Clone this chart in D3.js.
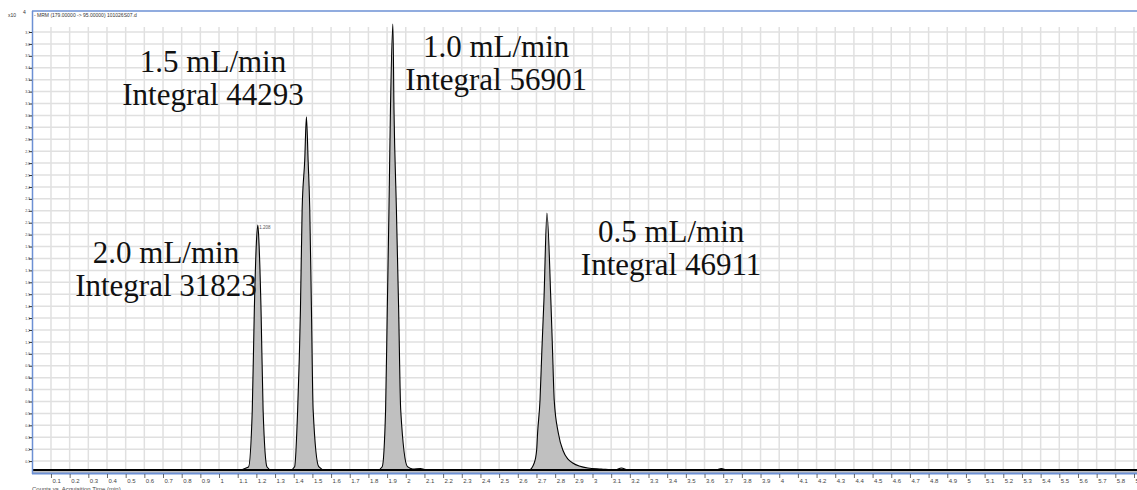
<!DOCTYPE html>
<html>
<head>
<meta charset="utf-8">
<script src="https://cdn.jsdelivr.net/npm/d3@7"></script>
<style>
  body { margin: 0; background: #fff; }
  svg { display: block; }
</style>
</head>
<body>
<svg id="chart" width="1137" height="490"></svg>
<script>
// chromatogram trace (time in min, counts)
const traceTime = [0, 1.10, 1.158, 1.178, 1.189, 1.200, 1.208, 1.214, 1.225, 1.236, 1.257, 1.28,
  1.382, 1.405, 1.421, 1.436, 1.445, 1.459, 1.468, 1.477, 1.486, 1.495, 1.504, 1.534, 1.565,
  1.85, 1.874, 1.892, 1.901, 1.910, 1.918, 1.931, 1.937, 1.950, 1.962, 1.973, 2.009, 2.037, 2.08, 2.10, 2.15,
  2.66, 2.688, 2.701, 2.706, 2.719, 2.729, 2.740, 2.756, 2.777, 2.786, 2.795, 2.817, 2.841, 2.894, 2.975, 3.047,
  3.12, 3.155, 3.19, 3.66, 3.69, 3.72, 5.95]
const traceCounts = [250, 250, 503, 5285, 13676, 19300, 20800, 19300, 13676, 5285, 503, 250,
  250, 529, 5285, 13676, 22066, 26260, 29890, 26260, 22066, 13676, 5285, 529, 250,
  250, 529, 5285, 13676, 22066, 30456, 37670, 30456, 22066, 13676, 5285, 529, 336, 380, 300, 250,
  250, 839, 1930, 3356, 6125, 10320, 14515, 21814, 14515, 10320, 6125, 3356, 1930, 839, 420, 336,
  260, 420, 260, 250, 380, 250, 250]

const peakLabels = [
  ['2.0 mL/min', 'Integral 31823'],
  ['1.5 mL/min', 'Integral 44293'],
  ['1.0 mL/min', 'Integral 56901'],
  ['0.5 mL/min', 'Integral 46911']
]
const peakLabelAt = [[0.716, 263], [0.968, 72], [2.484, 57], [3.421, 242]] // centre time, baseline px
const apexTime = 1.208
const xTicks = d3.range(1, 60).map(i => i / 10)
const yTicks = d3.range(1, 38).map(i => i * 1000)

const W = 1137
const H = 490
const svg = d3.select('#chart')

const x = d3.scaleLinear().domain([0, 5.9]).range([32.3, 1134])
const y = d3.scaleLinear().domain([0, 37000]).range([473, 32])

const blue = '#6c90d4'
const gridColor = '#e0e0e0'

// grid
svg.append('g')
  .selectAll('line')
  .data(xTicks)
  .join('line')
  .attr('x1', d => x(d)).attr('x2', d => x(d))
  .attr('y1', 27).attr('y2', 473)
  .attr('stroke', gridColor)
  .attr('stroke-width', 1.5)

svg.append('g')
  .selectAll('line')
  .data(yTicks)
  .join('line')
  .attr('x1', 33).attr('x2', W)
  .attr('y1', d => y(d)).attr('y2', d => y(d))
  .attr('stroke', gridColor)
  .attr('stroke-width', 1.5)

// trace
const area = d3.area()
  .x((d, i) => x(traceTime[i]))
  .y0(y(0))
  .y1((d, i) => y(traceCounts[i]))
  .curve(d3.curveMonotoneX)
const line = d3.line()
  .x((d, i) => x(traceTime[i]))
  .y((d, i) => y(traceCounts[i]))
  .curve(d3.curveMonotoneX)

svg.append('path')
  .datum(traceCounts)
  .attr('d', area)
  .attr('fill', '#c0c0c0')

svg.append('path')
  .datum(traceCounts)
  .attr('d', line)
  .attr('fill', 'none')
  .attr('stroke', '#000')
  .attr('stroke-width', 1.1)

// thick baseline
svg.append('line')
  .attr('x1', 33).attr('x2', W)
  .attr('y1', y(250)).attr('y2', y(250))
  .attr('stroke', '#000')
  .attr('stroke-width', 2)

// frame
svg.append('line').attr('x1', 32).attr('x2', W).attr('y1', 11).attr('y2', 11)
  .attr('stroke', blue).attr('stroke-width', 1.5)
svg.append('line').attr('x1', 32.5).attr('x2', 32.5).attr('y1', 11).attr('y2', 474)
  .attr('stroke', blue).attr('stroke-width', 1.5)
svg.append('line').attr('x1', 32).attr('x2', W).attr('y1', 473.5).attr('y2', 473.5)
  .attr('stroke', blue).attr('stroke-width', 2)

// x axis
const xAxis = d3.axisBottom(x)
  .tickValues(xTicks)
  .tickSize(4)
  .tickFormat(d => d3.format('~g')(d))
const gx = svg.append('g')
  .attr('transform', 'translate(0,474)')
  .call(xAxis)
gx.select('.domain').remove()
gx.selectAll('line').attr('stroke', '#444').attr('stroke-width', 0.8)
gx.selectAll('text')
  .attr('fill', '#444')
  .attr('font-family', 'Arial, "Liberation Sans", sans-serif')
  .attr('font-size', 6)
  .attr('text-anchor', 'start')
  .attr('dx', 1)
  .attr('y', 5)

// y axis (tiny labels)
const yAxis = d3.axisLeft(y)
  .tickValues(yTicks)
  .tickSize(3)
  .tickFormat(d => d3.format('.1f')(d / 10000))
const gy = svg.append('g')
  .attr('transform', 'translate(32,0)')
  .call(yAxis)
gy.select('.domain').remove()
gy.selectAll('line').attr('stroke', '#333').attr('stroke-width', 1)
gy.selectAll('text')
  .attr('fill', '#444')
  .attr('font-family', 'Arial, "Liberation Sans", sans-serif')
  .attr('font-size', 3.5)
  .attr('x', -2)

// header
svg.append('text').attr('x', 8).attr('y', 17)
  .attr('font-family', 'Arial, "Liberation Sans", sans-serif').attr('font-size', 5)
  .attr('fill', '#333').text('x10')
svg.append('text').attr('x', 23).attr('y', 14)
  .attr('font-family', 'Arial, "Liberation Sans", sans-serif').attr('font-size', 5)
  .attr('fill', '#333').text('4')
svg.append('text').attr('x', 34).attr('y', 17)
  .attr('font-family', 'Arial, "Liberation Sans", sans-serif').attr('font-size', 5)
  .attr('fill', '#333').text('- MRM (179.00000 -> 95.00000) 101026S07.d')

// footer
svg.append('text').attr('x', 32).attr('y', 491)
  .attr('font-family', 'Arial, "Liberation Sans", sans-serif').attr('font-size', 6)
  .attr('fill', '#444').text('Counts vs. Acquisition Time (min)')

// apex label
svg.append('text').attr('x', x(apexTime) + 1.5).attr('y', y(20800) + 4)
  .attr('font-family', 'Arial, "Liberation Sans", sans-serif').attr('font-size', 4.5)
  .attr('fill', '#555').text(d3.format('.3f')(apexTime))

// peak annotations
const ann = svg.append('g')
  .attr('font-family', '"Palatino Linotype", "Book Antiqua", Palatino, "Liberation Serif", serif')
  .attr('font-size', 31)
  .attr('fill', '#111')
  .attr('text-anchor', 'middle')

peakLabels.forEach((lines, i) => {
  const [t, base] = peakLabelAt[i]
  ann.append('text')
    .attr('x', x(t))
    .attr('y', base)
    .text(lines[0])
  ann.append('text')
    .attr('x', x(t))
    .attr('y', base + 33)
    .text(lines[1])
})
</script>
</body>
</html>
